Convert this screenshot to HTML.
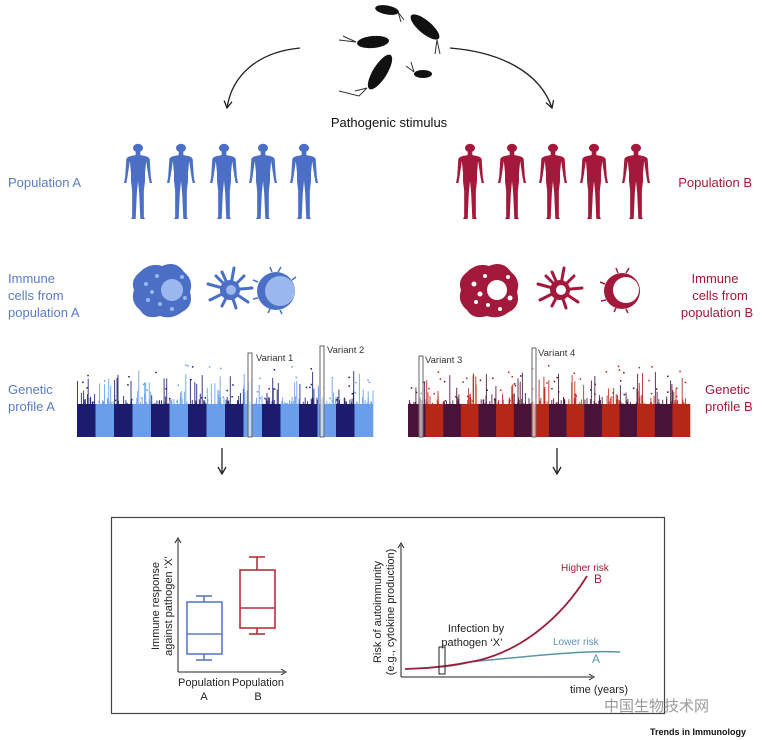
<!DOCTYPE html>
<html><head><meta charset="utf-8"><style>
body{margin:0;background:#fff;}
svg{display:block;font-family:"Liberation Sans",Arial,sans-serif;}
</style></head><body>
<svg id="s" width="762" height="740" viewBox="0 0 762 740" xmlns="http://www.w3.org/2000/svg">
<defs>
<marker id="ah" markerWidth="10" markerHeight="10" refX="8" refY="5" orient="auto" markerUnits="userSpaceOnUse"><path d="M1,1 L8,5 L1,9" fill="none" stroke="#222" stroke-width="1.3"/></marker>
<marker id="sa" markerWidth="8" markerHeight="8" refX="4" refY="4" orient="auto" markerUnits="userSpaceOnUse"><path d="M1,1 L6,4 L1,7" fill="none" stroke="#222" stroke-width="1"/></marker>
<symbol id="man" viewBox="0 0 24 76" preserveAspectRatio="none">
<circle cx="12" cy="5" r="4.3"/>
<path d="M10,9 h4 v3 c3,1 7,1 8,4 l1,18 l1,6 l-2,0 l-1,-6 l-2,-16 l-1,12 l0,8 l-1,10 l0,26 l1,2 h-4 l-1,-26 l-1,-12 l-1,12 l-1,26 h-4 l1,-2 l0,-26 l-1,-10 l0,-8 l-1,-12 l-2,16 l-1,6 l-2,0 l1,-6 l1,-18 c1,-3 5,-3 8,-4z"/>
</symbol>
</defs>

<g fill="#111" stroke="#333" stroke-width="1">
<ellipse cx="373" cy="42" rx="16" ry="6" transform="rotate(-5 373 42)" stroke="none"/>
<path d="M356,42 l-13,-6 M356,42 l-17,-2" fill="none"/>
<ellipse cx="387" cy="10" rx="12" ry="4.5" transform="rotate(10 387 10)" stroke="none"/>
<path d="M398,12 l3,10 M398,12 l6,8" fill="none"/>
<ellipse cx="425" cy="27" rx="18" ry="6.5" transform="rotate(40 425 27)" stroke="none"/>
<path d="M437,40 l-2,14 M437,40 l3,14" fill="none"/>
<ellipse cx="380" cy="72" rx="20" ry="7" transform="rotate(-58 380 72)" stroke="none"/>
<path d="M367,88 l-8,8 l-20,-5 M367,88 l-12,3" fill="none"/>
<ellipse cx="423" cy="74" rx="9" ry="4" stroke="none"/>
<path d="M414,72 l-8,-6 M414,72 l-3,-10" fill="none"/>
</g>
<path d="M300,48 C258,52 232,75 227,108" fill="none" stroke="#222" stroke-width="1.3" marker-end="url(#ah)"/>
<path d="M450,48 C500,52 540,72 552,108" fill="none" stroke="#222" stroke-width="1.3" marker-end="url(#ah)"/>
<text x="389" y="127" font-size="13" text-anchor="middle" fill="#111">Pathogenic stimulus</text>

<g fill="#4a6fc4">
<use href="#man" x="124" y="143" width="28" height="76"/>
<use href="#man" x="167" y="143" width="28" height="76"/>
<use href="#man" x="210" y="143" width="28" height="76"/>
<use href="#man" x="249" y="143" width="28" height="76"/>
<use href="#man" x="290" y="143" width="28" height="76"/>
</g>
<g fill="#a3193b">
<use href="#man" x="456" y="143" width="28" height="76"/>
<use href="#man" x="498" y="143" width="28" height="76"/>
<use href="#man" x="539" y="143" width="28" height="76"/>
<use href="#man" x="580" y="143" width="28" height="76"/>
<use href="#man" x="622" y="143" width="28" height="76"/>
</g>
<g font-size="13" fill="#5a7cc4">
<text x="8" y="187">Population A</text>
<text x="8" y="283">Immune</text><text x="8" y="300">cells from</text><text x="8" y="317">population A</text>
<text x="8" y="394">Genetic</text><text x="8" y="411">profile A</text>
</g>
<g font-size="13" fill="#a3193b">
<text x="752" y="187" text-anchor="end">Population B</text>
<text x="715" y="283" text-anchor="middle">Immune</text><text x="720" y="300" text-anchor="middle">cells from</text><text x="717" y="317" text-anchor="middle">population B</text>
<text x="705" y="394">Genetic</text><text x="705" y="411">profile B</text>
</g>

<g>
<path d="M140,272 q10,-10 22,-6 q14,-6 22,6 q10,8 6,20 q4,14 -8,20 q-10,8 -22,4 q-14,4 -20,-6 q-10,-8 -6,-20 q-4,-10 6,-18z" fill="#4a6fc4"/>
<circle cx="172" cy="290" r="11" fill="#9ab8ee"/>
<g fill="#9ab8ee"><circle cx="146" cy="284" r="2"/><circle cx="152" cy="292" r="2"/><circle cx="148" cy="300" r="2"/><circle cx="157" cy="276" r="2"/><circle cx="160" cy="304" r="2"/><circle cx="172" cy="309" r="2"/><circle cx="185" cy="298" r="2"/><circle cx="182" cy="277" r="2"/></g>
<g stroke="#4a6fc4" stroke-width="3" stroke-linecap="round"><path d="M230,290 l-22,-6 M230,290 l-8,-18 M230,290 l4,-22 M230,290 l14,-14 M230,290 l22,-2 M230,290 l18,12 M230,290 l6,18 M230,290 l-8,16 M230,290 l-20,10 M230,290 l-14,-14"/></g>
<circle cx="230" cy="290" r="10" fill="#4a6fc4"/><circle cx="231" cy="290" r="5" fill="#9ab8ee"/>
<circle cx="276" cy="291" r="19" fill="#4a6fc4"/><circle cx="280" cy="291" r="15" fill="#9ab8ee"/>
<g stroke="#4a6fc4" stroke-width="1.5" fill="none"><path d="M272,272 l-2,-5 M278,272 l3,-5 M258,282 l-5,-2 M258,298 l-5,1 M270,309 l-2,4 M280,310 l2,4 M292,280 l4,-3"/></g>
</g>
<g>
<path d="M467,272 q10,-10 22,-6 q14,-6 22,6 q10,8 6,20 q4,14 -8,20 q-10,8 -22,4 q-14,4 -20,-6 q-10,-8 -6,-20 q-4,-10 6,-18z" fill="#a3193b"/>
<circle cx="497" cy="290" r="10" fill="#fff"/>
<g fill="#fff"><circle cx="474" cy="284" r="2.5"/><circle cx="480" cy="294" r="2.5"/><circle cx="476" cy="302" r="2"/><circle cx="485" cy="276" r="2"/><circle cx="488" cy="305" r="2"/><circle cx="500" cy="309" r="2"/><circle cx="510" cy="298" r="2.5"/><circle cx="508" cy="277" r="2"/></g>
<g stroke="#a3193b" stroke-width="3" stroke-linecap="round"><path d="M560,290 l-22,-6 M560,290 l-8,-18 M560,290 l4,-22 M560,290 l14,-14 M560,290 l22,-2 M560,290 l18,12 M560,290 l6,18 M560,290 l-8,16 M560,290 l-20,10 M560,290 l-14,-14"/></g>
<circle cx="560" cy="290" r="10" fill="#a3193b"/><circle cx="561" cy="290" r="5" fill="#fff"/>
<circle cx="622" cy="291" r="18" fill="#a3193b"/><circle cx="626" cy="290" r="13" fill="#fff"/>
<g stroke="#a3193b" stroke-width="1.5" fill="none"><path d="M618,273 l-2,-5 M626,273 l3,-5 M605,284 l-5,-2 M606,300 l-5,1 M616,308 l-2,4 M626,309 l2,4"/></g>
</g>

<g id="mA"></g><g id="mB"></g>
<g fill="none" stroke="#666" stroke-width="1">
<rect x="248" y="353" width="4" height="84" fill="#fff" fill-opacity="0.6"/>
<rect x="320" y="346" width="4" height="91" fill="#fff" fill-opacity="0.6"/>
<rect x="419" y="356" width="4" height="81" fill="#fff" fill-opacity="0.6"/>
<rect x="532" y="348" width="4" height="89" fill="#fff" fill-opacity="0.6"/>
</g>
<g font-size="9.5" fill="#333">
<text x="256" y="361">Variant 1</text><text x="327" y="353">Variant 2</text>
<text x="425" y="363">Variant 3</text><text x="538" y="356">Variant 4</text>
</g>

<line x1="222" y1="448" x2="222" y2="474" stroke="#222" stroke-width="1.3" marker-end="url(#ah)"/>
<line x1="557" y1="448" x2="557" y2="474" stroke="#222" stroke-width="1.3" marker-end="url(#ah)"/>

<rect x="111.5" y="517.5" width="553" height="196" fill="none" stroke="#444" stroke-width="1.2"/>
<line x1="178" y1="672" x2="284" y2="672" stroke="#222" stroke-width="1" marker-end="url(#sa)"/>
<line x1="178" y1="672" x2="178" y2="540" stroke="#222" stroke-width="1" marker-end="url(#sa)"/>
<g stroke="#5a7cc4" stroke-width="1.6" fill="none">
<rect x="187" y="602" width="35" height="52"/><line x1="187" y1="634" x2="222" y2="634"/>
<line x1="204" y1="602" x2="204" y2="596"/><line x1="196" y1="596" x2="212" y2="596"/>
<line x1="204" y1="654" x2="204" y2="660"/><line x1="196" y1="660" x2="212" y2="660"/>
</g>
<g stroke="#b8303a" stroke-width="1.6" fill="none">
<rect x="240" y="570" width="35" height="58"/><line x1="240" y1="608" x2="275" y2="608"/>
<line x1="257" y1="570" x2="257" y2="557"/><line x1="249" y1="557" x2="265" y2="557"/>
<line x1="257" y1="628" x2="257" y2="634"/><line x1="249" y1="634" x2="265" y2="634"/>
</g>
<g font-size="11" fill="#222" text-anchor="middle">
<text x="204" y="686">Population</text><text x="204" y="700">A</text>
<text x="258" y="686">Population</text><text x="258" y="700">B</text>
</g>
<text transform="translate(159,606) rotate(-90)" font-size="11" fill="#222" text-anchor="middle">Immune response</text>
<text transform="translate(172,606) rotate(-90)" font-size="11" fill="#222" text-anchor="middle">against pathogen ‘X’</text>

<line x1="401" y1="677" x2="592" y2="677" stroke="#222" stroke-width="1" marker-end="url(#sa)"/>
<line x1="401" y1="677" x2="401" y2="545" stroke="#222" stroke-width="1" marker-end="url(#sa)"/>
<path d="M405,669 C440,668 460,665 470,662 C540,655 590,650 620,652" fill="none" stroke="#5a94a8" stroke-width="1.5"/>
<path d="M405,669 C440,668 460,664 480,660 C520,650 560,620 587,576" fill="none" stroke="#9a1f3b" stroke-width="1.8"/>
<rect x="439" y="647" width="6" height="27" fill="none" stroke="#222" stroke-width="1"/>
<text x="476" y="632" font-size="11" fill="#222" text-anchor="middle">Infection by</text>
<text x="472" y="646" font-size="11" fill="#222" text-anchor="middle">pathogen ‘X’</text>
<text x="561" y="571" font-size="10" fill="#a3193b">Higher risk</text>
<text x="594" y="583" font-size="12" fill="#a3193b">B</text>
<text x="553" y="645" font-size="10" fill="#5a94b8">Lower risk</text>
<text x="592" y="663" font-size="12" fill="#5a94b8">A</text>
<text x="570" y="693" font-size="11" fill="#222">time (years)</text>
<text transform="translate(381,612) rotate(-90)" font-size="11" fill="#222" text-anchor="middle">Risk of autoimmunity</text>
<text transform="translate(394,612) rotate(-90)" font-size="11" fill="#222" text-anchor="middle">(e.g., cytokine production)</text>

<text x="604" y="711" font-size="15" fill="#999" font-family="'Liberation Sans','Noto Sans CJK SC',sans-serif">中国生物技术网</text>
<text x="650" y="735" font-size="9" font-weight="bold" fill="#111">Trends in Immunology</text>
</svg>
<script>
(function(){
var seed=7;function r(){seed=(seed*16807)%2147483647;return (seed-1)/2147483646;}
function plot(g,x0,x1,c1,c2,nChr){
  var G=document.getElementById(g);var w=(x1-x0)/nChr;var html="";
  for(var i=0;i<nChr;i++){
    var xs=x0+i*w, col=i%2?c2:c1;
    html+='<rect x="'+xs.toFixed(1)+'" y="404" width="'+(w+0.3).toFixed(1)+'" height="33" fill="'+col+'"/>';
    for(var k=0;k<Math.round(w*0.7);k++){
      var x=xs+r()*w, h=r(); var y=404-Math.pow(h,4)*30-r()*5;
      html+='<rect x="'+x.toFixed(1)+'" y="'+y.toFixed(1)+'" width="1" height="'+(404-y+1).toFixed(1)+'" fill="'+col+'" opacity="0.85"/>';
    }
    for(var k=0;k<4;k++){var x=xs+r()*w,y=404-r()*40;html+='<rect x="'+x.toFixed(1)+'" y="'+y.toFixed(1)+'" width="1.5" height="1.5" fill="'+col+'"/>';}
  }
  G.innerHTML=html;
}
plot("mA",77,373,"#1c1c6e","#6a9eea",16);
plot("mB",408,690,"#4a1238","#b52818",16);
})();
</script>
</body></html>
